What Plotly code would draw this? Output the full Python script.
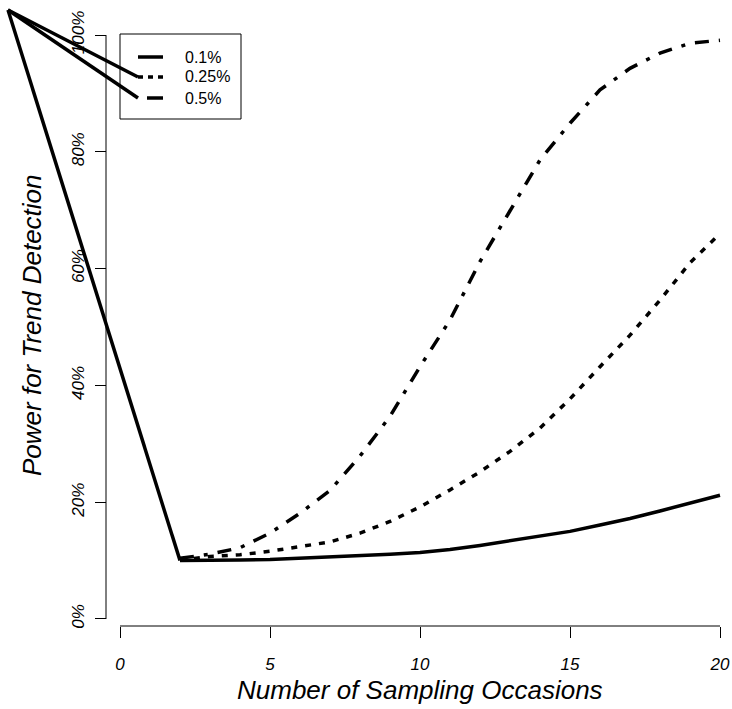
import plotly.graph_objects as go

# Number of sampling occasions
occasions = list(range(2, 21))

# Power for trend detection (%) for each annual trend size
power_01 = [10.0, 10.0, 10.1, 10.2, 10.4, 10.6, 10.8, 11.1, 11.4, 11.9,
            12.6, 13.4, 14.2, 15.0, 16.1, 17.2, 18.5, 19.8, 21.2]
power_025 = [10.1, 10.7, 11.0, 11.6, 12.4, 13.2, 14.7, 16.7, 19.2, 22.1,
             25.2, 28.7, 32.7, 37.7, 43.2, 48.6, 54.6, 61.0, 66.0]
power_05 = [10.4, 11.1, 12.2, 14.7, 18.1, 22.0, 27.9, 34.7, 43.2, 51.2,
            61.2, 70.0, 78.6, 84.9, 90.6, 94.3, 96.9, 98.6, 99.1]

series_labels = ["0.1%", "0.25%", "0.5%"]
x_ticks = [0, 5, 10, 15, 20]
y_ticks = [0, 20, 40, 60, 80, 100]
y_tick_text = ["0%", "20%", "40%", "60%", "80%", "100%"]

W, H = 732, 709
BOTTOM = 83                       # bottom margin (px)
PLOT_H = H - BOTTOM
X_RANGE = [-4.0, 20.4]
Y_RANGE = [-1.2, 106.0]
YAXIS_PX = 106                    # y axis drawn at this x pixel
ORIGIN_PX = (8, 10)               # stray path origin in the top-left corner

FONT = "Liberation Sans, Arial, sans-serif"
LW = 3.5
DOT = "6px,8px"
DASHDOT = "14px,10px,4px,10px"


def px_to_paper(px, py):
    return px / W, (PLOT_H - py) / PLOT_H


def px_to_data(px, py):
    x = X_RANGE[0] + px / W * (X_RANGE[1] - X_RANGE[0])
    y = Y_RANGE[1] - py / PLOT_H * (Y_RANGE[1] - Y_RANGE[0])
    return x, y


fig = go.Figure()

styles = [dict(dash="solid"), dict(dash=DOT), dict(dash=DASHDOT)]
for vals, name, st in zip([power_01, power_025, power_05], series_labels, styles):
    fig.add_trace(go.Scatter(
        x=occasions, y=vals, mode="lines", name=name, showlegend=False,
        line=dict(color="black", width=LW, **st),
    ))

# stray segment joining the corner origin to the first plotted point
ox, oy = px_to_data(*ORIGIN_PX)
fig.add_trace(go.Scatter(
    x=[ox, occasions[0]], y=[oy, power_01[0]], mode="lines", showlegend=False,
    line=dict(color="black", width=LW),
))

shapes = []
# axis lines spanning the tick range only
yx = YAXIS_PX / W
shapes.append(dict(type="line", xref="paper", yref="y", x0=yx, x1=yx,
                   y0=y_ticks[0], y1=y_ticks[-1], line=dict(color="black", width=1)))
shapes.append(dict(type="line", xref="x", yref="paper", x0=x_ticks[0], x1=x_ticks[-1],
                   y0=0, y1=0, line=dict(color="black", width=1)))

# legend box
bx0, by0 = px_to_paper(120, 34)
bx1, by1 = px_to_paper(241, 119)
shapes.append(dict(type="rect", xref="paper", yref="paper", x0=bx0, x1=bx1,
                   y0=by1, y1=by0, line=dict(color="black", width=1),
                   fillcolor="white", layer="below"))

legend_rows = [57, 77, 98]
sample_x = [(138, 163), (138, 163), (147, 163)]
sample_dash = ["solid", "5px,5px", "solid"]
annotations = []
for row, (sx0, sx1), d, lab in zip(legend_rows, sample_x, sample_dash, series_labels):
    p0 = px_to_paper(sx0, row)
    p1 = px_to_paper(sx1, row)
    shapes.append(dict(type="line", xref="paper", yref="paper", x0=p0[0], x1=p1[0],
                       y0=p0[1], y1=p1[1], line=dict(color="black", width=LW, dash=d)))
    tx, ty = px_to_paper(183, row)
    annotations.append(dict(xref="paper", yref="paper", x=tx, y=ty, text=lab,
                            showarrow=False, xanchor="left", yanchor="middle",
                            font=dict(family=FONT, size=16, color="black")))

# stray segments from the corner origin to the legend samples
o_p = px_to_paper(*ORIGIN_PX)
for row in legend_rows[1:]:
    e = px_to_paper(138, row)
    shapes.append(dict(type="line", xref="paper", yref="paper", x0=o_p[0], x1=e[0],
                       y0=o_p[1], y1=e[1], line=dict(color="black", width=LW)))

# axis titles
xt = px_to_paper(420, 690)
annotations.append(dict(xref="paper", yref="paper", x=xt[0], y=xt[1],
                        text="Number of Sampling Occasions", showarrow=False,
                        xanchor="center", yanchor="middle",
                        font=dict(family=FONT, size=26, color="black", style="italic")))
yt = px_to_paper(32, 325)
annotations.append(dict(xref="paper", yref="paper", x=yt[0], y=yt[1],
                        text="Power for Trend Detection", showarrow=False, textangle=-90,
                        xanchor="center", yanchor="middle",
                        font=dict(family=FONT, size=26, color="black", style="italic")))

tickfont = dict(family=FONT, size=17, color="black", style="italic")
fig.update_layout(
    width=W, height=H,
    margin=dict(l=0, r=0, t=0, b=BOTTOM, pad=0),
    paper_bgcolor="white", plot_bgcolor="white",
    showlegend=False,
    shapes=shapes, annotations=annotations,
    xaxis=dict(range=X_RANGE, tickmode="array", tickvals=x_ticks, ticks="outside",
               ticklen=11, tickwidth=1, tickcolor="black", showgrid=False,
               zeroline=False, showline=False, tickfont=tickfont,
               ticklabelstandoff=12, fixedrange=True),
    yaxis=dict(range=Y_RANGE, tickmode="array", tickvals=y_ticks, ticktext=y_tick_text,
               tickangle=-90, anchor="free", position=yx, side="left",
               ticks="outside", ticklen=11, tickwidth=1, tickcolor="black",
               showgrid=False, zeroline=False, showline=False, tickfont=tickfont,
               ticklabelstandoff=4, fixedrange=True),
)

fig.write_html("out.html")
